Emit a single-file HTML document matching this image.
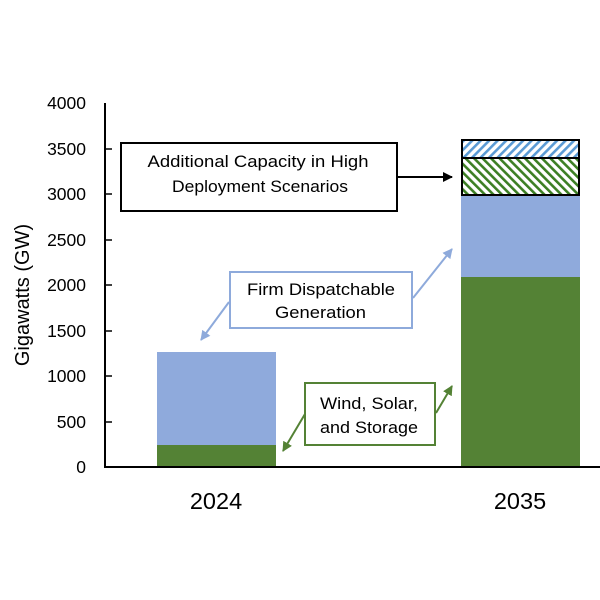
<!DOCTYPE html>
<html><head><meta charset="utf-8"><style>
html,body{margin:0;padding:0;background:#fff;}
svg{display:block;}
text{font-family:"Liberation Sans",sans-serif;fill:#000;}
</style></head><body>
<svg width="600" height="600" viewBox="0 0 600 600" xmlns="http://www.w3.org/2000/svg">
<defs>
<pattern id="hb" width="6" height="6" patternUnits="userSpaceOnUse" patternTransform="rotate(45)">
<rect width="6" height="6" fill="#fff"/><rect width="2.6" height="6" fill="#5b9bd5"/>
</pattern>
<pattern id="hg" width="6" height="6" patternUnits="userSpaceOnUse" patternTransform="rotate(-45)">
<rect width="6" height="6" fill="#fff"/><rect width="2.6" height="6" fill="#3d7f24"/>
</pattern>
<marker id="ab" viewBox="0 0 10 10" refX="9" refY="5" markerWidth="5" markerHeight="5" orient="auto-start-reverse"><path d="M0,0 L10,5 L0,10 z" fill="#8eaadb"/></marker>
<marker id="ag" viewBox="0 0 10 10" refX="9" refY="5" markerWidth="5" markerHeight="5" orient="auto-start-reverse"><path d="M0,0 L10,5 L0,10 z" fill="#548235"/></marker>
<marker id="ak" viewBox="0 0 10 10" refX="9" refY="5" markerWidth="5" markerHeight="5" orient="auto"><path d="M0,0 L10,5 L0,10 z" fill="#000"/></marker>
</defs>

<!-- bars 2024 -->
<rect x="157" y="352" width="119" height="93" fill="#8faadc"/>
<rect x="157" y="445" width="119" height="22" fill="#548235"/>
<!-- bars 2035 -->
<rect x="461" y="195" width="119" height="82" fill="#8faadc"/>
<rect x="461" y="277" width="119" height="190" fill="#548235"/>
<rect x="462" y="158" width="117" height="37" fill="url(#hg)" stroke="#000" stroke-width="2"/>
<rect x="462" y="140" width="117" height="18" fill="url(#hb)" stroke="#000" stroke-width="2"/>

<!-- axes -->
<line x1="105" y1="103" x2="105" y2="468" stroke="#000" stroke-width="2"/>
<line x1="104" y1="467" x2="600" y2="467" stroke="#000" stroke-width="2"/>
<g stroke="#000" stroke-width="1.5">
<line x1="105" y1="149" x2="112" y2="149"/>
<line x1="105" y1="194" x2="112" y2="194"/>
<line x1="105" y1="240" x2="112" y2="240"/>
<line x1="105" y1="285" x2="112" y2="285"/>
<line x1="105" y1="331" x2="112" y2="331"/>
<line x1="105" y1="376" x2="112" y2="376"/>
<line x1="105" y1="422" x2="112" y2="422"/>
</g>

<!-- tick labels -->
<g font-size="17.5" text-anchor="end">
<text x="86" y="109">4000</text>
<text x="86" y="155">3500</text>
<text x="86" y="200">3000</text>
<text x="86" y="246">2500</text>
<text x="86" y="291">2000</text>
<text x="86" y="337">1500</text>
<text x="86" y="382">1000</text>
<text x="86" y="428">500</text>
<text x="86" y="473">0</text>
</g>

<text transform="translate(29,295) rotate(-90)" font-size="20" text-anchor="middle">Gigawatts (GW)</text>

<text x="216" y="509" font-size="23.5" text-anchor="middle">2024</text>
<text x="520" y="509" font-size="23.5" text-anchor="middle">2035</text>

<!-- black annotation -->
<rect x="121" y="143" width="276" height="68" fill="#fff" stroke="#000" stroke-width="2"/>
<text x="258" y="167" font-size="16.5" text-anchor="middle" textLength="221" lengthAdjust="spacingAndGlyphs">Additional Capacity in High</text>
<text x="260" y="192" font-size="16.5" text-anchor="middle" textLength="176" lengthAdjust="spacingAndGlyphs">Deployment Scenarios</text>
<line x1="397" y1="177" x2="452" y2="177" stroke="#000" stroke-width="2" marker-end="url(#ak)"/>

<!-- firm annotation -->
<rect x="230" y="272" width="182" height="56" fill="#fff" stroke="#8eaadb" stroke-width="2"/>
<text x="321" y="295" font-size="16.5" text-anchor="middle" textLength="148" lengthAdjust="spacingAndGlyphs">Firm Dispatchable</text>
<text x="320.5" y="318" font-size="16.5" text-anchor="middle" textLength="91" lengthAdjust="spacingAndGlyphs">Generation</text>
<line x1="229" y1="302" x2="201" y2="340" stroke="#8eaadb" stroke-width="2" marker-end="url(#ab)"/>
<line x1="413" y1="298" x2="452" y2="249" stroke="#8eaadb" stroke-width="2" marker-end="url(#ab)"/>

<!-- wind annotation -->
<rect x="305" y="383" width="130" height="62" fill="#fff" stroke="#548235" stroke-width="2"/>
<text x="369" y="409" font-size="16.5" text-anchor="middle" textLength="98" lengthAdjust="spacingAndGlyphs">Wind, Solar,</text>
<text x="369" y="433" font-size="16.5" text-anchor="middle" textLength="98" lengthAdjust="spacingAndGlyphs">and Storage</text>
<line x1="305" y1="414" x2="283" y2="451" stroke="#548235" stroke-width="2" marker-end="url(#ag)"/>
<line x1="436" y1="413" x2="452" y2="386" stroke="#548235" stroke-width="2" marker-end="url(#ag)"/>
</svg>
</body></html>
